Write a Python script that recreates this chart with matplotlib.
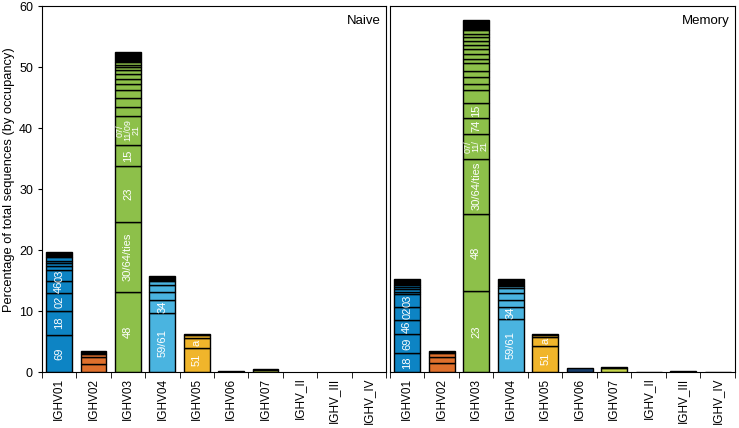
import numpy as np
import matplotlib
matplotlib.use("Agg")
import matplotlib.pyplot as plt

plt.rcParams['font.family'] = ['Liberation Sans', 'DejaVu Sans']

genes = ["IGHV01", "IGHV02", "IGHV03", "IGHV04", "IGHV05",
         "IGHV06", "IGHV07", "IGHV_II", "IGHV_III", "IGHV_IV"]
colors = ["#0d84c4", "#e0702c", "#8dc04a", "#4ab4e0", "#f0b52b",
          "#173d6b", "#c6d64c", "#333333", "#333333", "#333333"]

# cumulative top of each stacked segment (percent)
naive_tops = [
    [6.1, 10.0, 13.0, 14.9, 16.7, 17.4, 17.8, 18.2, 18.9, 19.6],
    [1.3, 2.4, 3.0, 3.5],
    [13.1, 24.6, 33.8, 37.2, 42.0, 43.4, 45.0, 46.2, 47.2, 48.0, 48.8,
     49.5, 50.0, 50.4, 50.9, 52.5],
    [9.6, 11.8, 13.2, 14.3, 15.0, 15.8],
    [3.9, 5.5, 6.05, 6.3],
    [0.2],
    [0.4, 0.5],
    [],
    [],
    [],
]
naive_labels = [
    ["69", "18", "02", "46", "03"],
    [],
    ["48", "30/64/ties", "23", "15", "07/\n11/09\n21"],
    ["59/61", "34"],
    ["51", "a"],
    [], [], [], [], [],
]

memory_tops = [
    [3.1, 6.3, 8.6, 10.7, 12.8, 13.2, 13.6, 14.0, 14.3, 15.2],
    [1.4, 2.5, 3.1, 3.5],
    [13.3, 25.9, 35.0, 39.0, 41.7, 44.1, 46.2, 47.3, 48.4, 49.4, 50.6,
     51.4, 52.2, 52.9, 53.6, 54.3, 54.9, 55.4, 56.0, 57.7],
    [8.7, 10.7, 11.8, 13.0, 13.7, 14.1, 15.2],
    [4.3, 5.8, 6.1, 6.3],
    [0.7],
    [0.6, 0.8],
    [0.05],
    [0.2],
    [0.05],
]
memory_labels = [
    ["18", "69", "46", "02", "03"],
    [],
    ["23", "48", "30/64/ties", "07/\n11/\n21", "74", "15"],
    ["59/61", "34"],
    ["51", "a"],
    [], [], [], [], [],
]


def draw_panel(ax, tops, labels, title):
    x = np.arange(len(genes))
    for i, t in enumerate(tops):
        if not t:
            continue
        t = np.array(t)
        bottoms = np.concatenate([[0], t[:-1]])
        heights = t - bottoms
        for j, (b, h) in enumerate(zip(bottoms, heights)):
            fc = colors[i]
            if len(t) > 1 and j == len(t) - 1:
                fc = "black"
            ax.bar(x[i], h, bottom=b, width=0.75, color=fc,
                   edgecolor="black", linewidth=1.0)
        for j, lab in enumerate(labels[i]):
            fs = 8 if "\n" not in lab else 6.5
            ax.text(x[i], bottoms[j] + heights[j] / 2, lab, rotation=90,
                    ha="center", va="center", color="white", fontsize=fs,
                    linespacing=0.85)
    ax.set_xlim(-0.5, len(genes) - 0.5)
    ax.set_ylim(0, 60)
    ax.set_xticks(x)
    ax.set_xticklabels(genes, rotation=90, fontsize=8.5)
    ax.tick_params(axis="x", which="major", length=0, pad=4)
    ax.set_xticks(np.arange(len(genes) + 1) - 0.5, minor=True)
    ax.tick_params(axis="x", which="minor", length=4, direction="out")
    ax.text(0.985, 0.975, title, transform=ax.transAxes, ha="right",
            va="top", fontsize=9.5)


fig = plt.figure(figsize=(7.39, 4.28), dpi=100)
ax1 = fig.add_axes([0.0568, 0.1308, 0.4655, 0.855])
ax2 = fig.add_axes([0.5277, 0.1308, 0.4668, 0.855])

draw_panel(ax1, naive_tops, naive_labels, "Naive")
draw_panel(ax2, memory_tops, memory_labels, "Memory")

ax1.set_yticks(range(0, 61, 10))
ax1.tick_params(axis="y", labelsize=9, length=3)
ax1.set_ylabel("Percentage of total sequences (by occupancy)", fontsize=9.3)
ax1.yaxis.set_label_coords(-0.078, 0.527)
ax2.set_yticks([])

fig.savefig("out.png", dpi=100)
